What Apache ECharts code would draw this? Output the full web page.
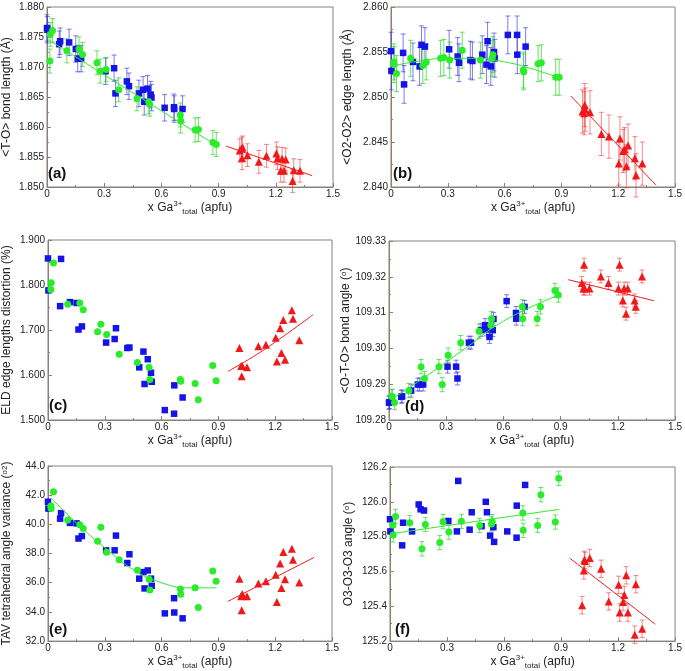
<!DOCTYPE html>
<html><head><meta charset="utf-8">
<script src="https://cdn.jsdelivr.net/npm/echarts/dist/echarts.min.js"></script>
<style>html,body{margin:0;padding:0;background:#fff}#c{width:685px;height:671px}</style>
</head><body><div id="c"></div><script>
// ---------- DATA ----------
const blueX = [0.000,0.002,0.064,0.069,0.116,0.151,0.161,0.179,0.307,0.352,0.359,0.419,0.430,0.482,0.504,0.510,0.527,0.544,0.548,0.617,0.666,0.667,0.711];
const greenX = [0.015,0.017,0.029,0.104,0.168,0.186,0.262,0.279,0.310,0.376,0.472,0.534,0.538,0.699,0.701,0.777,0.794,0.870,0.888];
const redX = [1.011,1.020,1.023,1.026,1.051,1.111,1.151,1.203,1.209,1.226,1.233,1.243,1.252,1.288,1.294,1.327];

const blueA = [1.8765,1.8762,1.8738,1.8743,1.8741,1.8730,1.8714,1.8714,1.8693,1.8698,1.8656,1.8676,1.8668,1.8656,1.8662,1.8642,1.8664,1.8654,1.8649,1.8632,1.8633,1.8630,1.8630];
const greenA = [1.8710,1.8754,1.8761,1.8727,1.8730,1.8721,1.8707,1.8693,1.8696,1.8662,1.8647,1.8642,1.8638,1.8620,1.8610,1.8595,1.8596,1.8574,1.8571];
const redA = [1.8561,1.8564,1.8548,1.8566,1.8553,1.8542,1.8552,1.8556,1.8548,1.8527,1.8547,1.8527,1.8546,1.8510,1.8528,1.8527];
const fitGreenA = [[0,1.8747],[0.89,1.8569]];
const fitRedA = [[0.94,1.8568],[1.39,1.8519]];

const blueB = [2.8551,2.8529,2.8549,2.8514,2.8539,2.8534,2.8558,2.8556,2.8553,2.8545,2.8538,2.8541,2.8540,2.8547,2.8536,2.8562,2.8534,2.8550,2.8543,2.8569,2.8569,2.8547,2.8556];
const greenB = [2.8539,2.8536,2.8526,2.8543,2.8535,2.8539,2.8543,2.8544,2.8541,2.8552,2.8541,2.8543,2.8547,2.8530,2.8528,2.8537,2.8538,2.8522,2.8522];
const redB = [2.8484,2.8482,2.8491,2.8486,2.8483,2.8459,2.8456,2.8426,2.8454,2.8440,2.8442,2.8423,2.8446,2.8432,2.8413,2.8426];
const fitGreenB = [[0,2.8534],[0.15,2.8540],[0.3,2.8543],[0.45,2.8543],[0.6,2.8539],[0.75,2.8531],[0.89,2.8521]];
const fitRedB = [[0.95,2.8501],[1.40,2.8402]];

const blueC = [1.859,1.788,1.753,1.858,1.762,1.760,1.701,1.708,1.672,1.680,1.704,1.660,1.661,1.617,1.652,1.580,1.635,1.605,1.585,1.522,1.514,1.577,1.550];
const greenC = [1.790,1.805,1.849,1.757,1.760,1.745,1.696,1.713,1.690,1.646,1.628,1.617,1.590,1.590,1.586,1.581,1.545,1.621,1.587];
const redC = [1.660,1.620,1.597,1.620,1.617,1.664,1.667,1.683,1.630,1.704,1.649,1.722,1.634,1.744,1.725,1.677];
const fitRedC = [[0.95,1.608],[1.1,1.645],[1.25,1.688],[1.40,1.734]];

const blueD = [109.2848,109.2850,109.2865,109.2866,109.2882,109.2899,109.2899,109.2899,109.2949,109.2949,109.2916,109.3016,109.3016,109.3051,109.3065,109.3053,109.3032,109.3051,109.3082,109.3132,109.3099,109.3083,109.3116];
const greenD = [109.2866,109.2865,109.2849,109.2882,109.2949,109.2916,109.2949,109.2899,109.2981,109.3016,109.3048,109.3065,109.3083,109.3116,109.3083,109.3083,109.3116,109.3162,109.3149];
const redD = [109.3183,109.3167,109.3234,109.3167,109.3167,109.3201,109.3183,109.3167,109.3234,109.3134,109.3167,109.3097,109.3167,109.3134,109.3116,109.3201];
const fitGreenD = [[0.014,109.2858],[0.2,109.2924],[0.4,109.3000],[0.6,109.3076],[0.88,109.3147]];
const fitRedD = [[0.94,109.3192],[1.39,109.3133]];

const blueE = [41.55,41.08,40.39,40.77,40.10,40.07,39.03,39.20,38.22,38.22,39.23,37.35,37.95,36.28,36.73,35.61,36.84,36.28,35.79,33.90,34.94,33.96,33.56];
const greenE = [41.26,41.08,42.24,40.30,39.98,39.72,38.85,39.81,38.09,37.58,36.86,36.24,35.50,35.57,35.21,35.66,34.30,36.80,36.10];
const redE = [36.28,35.08,34.12,35.23,35.08,35.95,36.10,36.55,34.68,37.31,35.64,38.11,36.24,38.33,37.58,36.01];
const fitGreenE = [[0.017,41.8],[0.15,40.1],[0.3,38.4],[0.45,36.9],[0.6,36.0],[0.75,35.65],[0.89,35.65]];
const fitRedE = [[0.95,34.72],[1.405,37.73]];

const blueF = [125.90,125.83,125.75,125.88,125.83,125.985,125.957,125.95,125.89,125.83,126.12,125.84,125.94,125.86,126.00,125.94,125.806,125.854,125.77,125.83,125.794,125.978,126.097];
const greenF = [125.867,125.81,125.916,125.88,125.73,125.87,125.766,125.886,125.826,125.888,125.864,125.873,125.886,125.936,125.836,125.864,126.041,125.884,126.135];
const redF = [125.406,125.606,125.667,125.660,125.677,125.615,125.428,125.523,125.364,125.424,125.465,125.578,125.364,125.237,125.527,125.271];
const fitGreenF = [[0.009,125.817],[0.89,125.957]];
const fitRedF = [[0.945,125.677],[1.396,125.297]];

// error-bar half widths
const errA = {blue:0.0022, green:0.002, red:0.0019};
const errB = {blue:0.0021, green:0.002, red:0.0024};
const errD = {blue:0.0018, green:0.002, red:0.0018};
const errF = {blue:0, green:0.041, red:0.05};

const xTicks = ['0','0.3','0.6','0.9','1.2','1.5'];

// ---------- PANELS ----------
const FONT = '"Liberation Sans", Arial, Helvetica, sans-serif';
const C = {blue:'#1414e6', green:'#2aec2a', red:'#f01818'};
const CE = {blue:'rgba(40,40,220,0.6)', green:'rgba(40,215,40,0.7)', red:'rgba(240,40,40,0.55)'};
const AX = '#8a8077';

const panels = [
  {tag:'(a)', grid:{left:42,top:7,width:291,height:180}, min:1.850,max:1.880,iv:0.005,dec:3,name:'<T-O> bond length (Å)',gap:34,
   blue:blueA,green:greenA,red:redA,err:errA,fits:[[fitGreenA,'green'],[fitRedA,'red']],tagPos:[48,166]},
  {tag:'(b)', grid:{left:391,top:7,width:287,height:180}, min:2.840,max:2.860,iv:0.005,dec:3,name:'<O2-O2> edge length (Å)',gap:37,
   blue:blueB,green:greenB,red:redB,err:errB,fits:[[fitGreenB,'green'],[fitRedB,'red']],tagPos:[393,166]},
  {tag:'(c)', grid:{left:43,top:240,width:289,height:180}, min:1.5,max:1.9,iv:0.1,dec:3,name:'ELD edge lengths distortion (%)',gap:35,
   blue:blueC,green:greenC,red:redC,err:null,fits:[[fitRedC,'red']],tagPos:[49,398]},
  {tag:'(d)', grid:{left:389,top:241,width:288,height:179}, min:109.28,max:109.33,iv:0.01,dec:2,name:'<O-T-O> bond angle ({s|o})',gap:37,
   blue:blueD,green:greenD,red:redD,err:errD,fits:[[fitGreenD,'green'],[fitRedD,'red']],tagPos:[405,399]},
  {tag:'(e)', grid:{left:43,top:466,width:289,height:178}, min:32,max:44,iv:2,dec:1,name:'TAV tetrahedral angle variance ({s|o2})',gap:35,
   blue:blueE,green:greenE,red:redE,err:null,fits:[[fitGreenE,'green'],[fitRedE,'red']],tagPos:[49,622]},
  {tag:'(f)', grid:{left:390,top:467,width:288,height:177}, min:125.2,max:126.2,iv:0.2,dec:1,name:'O3-O3-O3 angle ({s|o})',gap:35,
   blue:blueF,green:greenF,red:redF,err:errF,fits:[[fitGreenF,'green'],[fitRedF,'red']],tagPos:[395,622]}
];

function errRender(color){
  return function(params, api){
    const x = api.value(0), y = api.value(1), e = api.value(2);
    if (!e) return null;
    const lo = api.coord([x, y - e]), hi = api.coord([x, y + e]);
    const w = 2.5;
    const st = {stroke: color, lineWidth: 1};
    return {type:'group', children:[
      {type:'line', shape:{x1:lo[0],y1:lo[1],x2:hi[0],y2:hi[1]}, style:st},
      {type:'line', shape:{x1:lo[0]-w,y1:lo[1],x2:lo[0]+w,y2:lo[1]}, style:st},
      {type:'line', shape:{x1:hi[0]-w,y1:hi[1],x2:hi[0]+w,y2:hi[1]}, style:st}
    ]};
  };
}
function zip(xs, ys){ return xs.map((x,i)=>[x, ys[i]]); }
function zipE(xs, ys, e){ return xs.map((x,i)=>[x, ys[i], e]); }

const grids=[], xAxes=[], yAxes=[], series=[], graphics=[];
const symbols = {blue:['rect',6.5], green:['circle',7], red:['triangle',8]};
const groups = [['blue',blueX],['green',greenX],['red',redX]];

panels.forEach((p, i) => {
  grids.push(Object.assign({show:true, borderColor:AX, borderWidth:1, backgroundColor:'transparent'}, p.grid));
  xAxes.push({gridIndex:i, type:'value', min:0, max:1.5, interval:0.3,
    axisLine:{lineStyle:{color:AX}}, axisTick:{inside:true, length:4, lineStyle:{color:AX}},
    minorTick:{show:true, splitNumber:2, length:2, lineStyle:{color:AX}},
    splitLine:{show:false},
    axisLabel:{color:'#222', fontSize:10, fontFamily:FONT, margin:2,
      formatter:(v)=>xTicks[Math.round(v/0.3)]},
    name:'x Ga{sup|3+}{sub|total} (apfu)', nameLocation:'middle', nameGap:10,
    nameTextStyle:{color:'#222', fontSize:12, fontFamily:FONT, lineHeight:16, verticalAlign:'top',
      rich:{sup:{fontSize:8, fontFamily:FONT, color:'#222', verticalAlign:'top', lineHeight:16},
            sub:{fontSize:8, fontFamily:FONT, color:'#222', verticalAlign:'bottom', lineHeight:12}}}
  });
  yAxes.push({gridIndex:i, type:'value', min:p.min, max:p.max, interval:p.iv,
    axisLine:{lineStyle:{color:AX}}, axisTick:{inside:true, length:4, lineStyle:{color:AX}},
    minorTick:{show:true, splitNumber:2, length:2, lineStyle:{color:AX}},
    splitLine:{show:false},
    axisLabel:{color:'#222', fontSize:10, fontFamily:FONT, margin:3, formatter:(v)=>v.toFixed(p.dec)},
    name:p.name, nameLocation:'middle', nameGap:p.gap, nameRotate:90,
    nameTextStyle:{color:'#222', fontSize:12, fontFamily:FONT,
      rich:{s:{fontSize:8, fontFamily:FONT, color:'#222', verticalAlign:'top'}}}
  });
  if (p.err) {
    groups.forEach(([g, xs]) => {
      if (!p.err[g]) return;
      series.push({type:'custom', xAxisIndex:i, yAxisIndex:i, renderItem:errRender(CE[g]),
        encode:{x:0, y:1}, data:zipE(xs, p[g], p.err[g]), z:2, silent:true, clip:false});
    });
  }
  groups.forEach(([g, xs]) => {
    series.push({type:'scatter', xAxisIndex:i, yAxisIndex:i, data:zip(xs, p[g]),
      symbol:symbols[g][0], symbolSize:symbols[g][1], itemStyle:{color:C[g], opacity:1}, z:3, silent:true});
  });
  p.fits.forEach(([d, g]) => {
    series.push({type:'line', xAxisIndex:i, yAxisIndex:i, data:d, smooth:true, showSymbol:false,
      lineStyle:{color:C[g], width:1}, z:4, silent:true});
  });
  graphics.push({type:'text', left:p.tagPos[0], top:p.tagPos[1],
    style:{text:p.tag, font:'bold 15px ' + FONT, fill:'#111'}});
});

const chart = echarts.init(document.getElementById('c'), null, {renderer:'canvas'});
chart.setOption({animation:false, backgroundColor:'#fff', grid:grids, xAxis:xAxes, yAxis:yAxes, series:series, graphic:graphics});
</script></body></html>
